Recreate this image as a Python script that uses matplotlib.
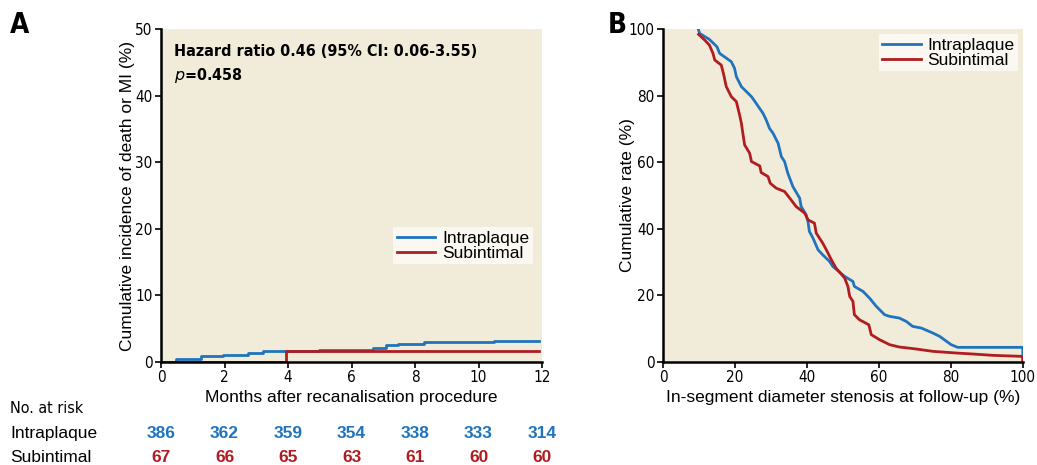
import numpy as np
import matplotlib.pyplot as plt
from matplotlib import font_manager
from matplotlib.font_manager import FontProperties

# colours
BLUE = '#1f74bd'
RED = '#b01c1f'
BG = '#f1ecda'

# Panel A: cumulative incidence (step functions)
intra_t = [0, 0.47, 1.26, 1.96, 2.75, 3.22, 4.98, 6.67, 7.09, 7.46, 8.29, 10.5, 11.9]
intra_y = [0, 0.5, 0.85, 1.05, 1.3, 1.6, 1.85, 2.15, 2.5, 2.75, 2.95, 3.2, 3.2]
sub_t = [0, 3.92, 11.9]
sub_y = [0, 1.6, 1.6]

risk_months = [0, 2, 4, 6, 8, 10, 12]
risk_intra = [386, 362, 359, 354, 338, 333, 314]
risk_sub = [67, 66, 65, 63, 61, 60, 60]

# Panel B: cumulative rate vs diameter stenosis
b_intra_x = [9.9, 10.2, 12.9, 15, 15.75, 19, 19.9, 20.4, 21.8, 23.2, 24.6, 25.9, 27.8, 28.7,
             29.6, 30.6, 32, 32.9, 33.8, 34.7, 36.1, 38, 38.4, 39.8, 40.3, 40.7, 41.7, 43.1,
             44.4, 46.3, 47.2, 50.5, 52.8, 53.2, 55.6, 57.4, 59.3, 61.6, 63, 65.7, 67.6,
             69.4, 71.8, 75, 76.9, 80.1, 81.9, 100, 100]
b_intra_y = [99.7, 98.7, 96.9, 94.7, 92.7, 90.2, 88.2, 85.7, 82.7, 81.2, 79.7, 77.7, 74.7, 72.7,
             70.2, 68.7, 65.7, 61.7, 60.2, 56.7, 52.7, 49.2, 46.7, 44.2, 42.2, 39.2, 37.2, 33.7,
             32.2, 30.2, 28.7, 25.7, 24.2, 22.7, 21.2, 19.2, 16.7, 14.2, 13.7, 13.2, 12.2,
             10.7, 10.2, 8.7, 7.7, 5.2, 4.4, 4.4, 0]
b_sub_x = [9.9, 11.6, 12.9, 13.9, 14.4, 16.2, 16.9, 17.6, 19, 20.4, 21.3, 21.8, 22.2, 22.7,
           24.1, 24.6, 26.9, 27.3, 29.2, 29.8, 31.5, 33.8, 35.6, 37, 39.4, 40.3, 42.1, 42.6,
           44.4, 45.4, 46.8, 48.1, 50.5, 51.4, 51.9, 52.8, 53.2, 54.6, 57.2, 57.9, 60.2, 63,
           65.7, 70.4, 75, 81.5, 86.1, 91.7, 99.5, 100, 100]
b_sub_y = [98.4, 96.7, 95.2, 92.7, 90.7, 89.2, 86.2, 82.7, 79.7, 78.2, 74.2, 71.7, 68.7, 65.2,
           62.7, 60.2, 58.9, 56.9, 55.7, 53.7, 52.2, 51.2, 48.7, 46.7, 44.7, 42.7, 41.7, 38.7,
           35.7, 33.7, 30.7, 28.2, 25.2, 22.7, 19.7, 18.2, 14.2, 12.7, 11.2, 8.2, 6.7, 5.2,
           4.5, 3.9, 3.2, 2.7, 2.4, 2.0, 1.7, 1.7, 0]

plt.rcParams['font.family'] = ['Liberation Sans', 'DejaVu Sans']


# narrow sans face if one is installed (Liberation Sans Narrow / DejaVu Sans Condensed)
def find_cond(bold):
    files = [f.fname for f in font_manager.fontManager.ttflist]
    if bold:
        keys = ['LiberationSansNarrow-Bold.', 'DejaVuSansCondensed-Bold.']
    else:
        keys = ['LiberationSansNarrow-Regular.', 'DejaVuSansCondensed.']
    for k in keys:
        for p in files:
            if k in p.replace('\\', '/').split('/')[-1]:
                return p
    return None


COND_R = find_cond(False)
COND_B = find_cond(True)


def cfont(size, bold=False):
    path = COND_B if bold else COND_R
    if path:
        return FontProperties(fname=path, size=size)
    return FontProperties(family='Liberation Sans', size=size * 0.9,
                          weight='bold' if bold else 'normal')


fig = plt.figure(figsize=(10.37, 4.65), dpi=100)
axA = fig.add_axes([0.1553, 0.2215, 0.3674, 0.716])
axB = fig.add_axes([0.6393, 0.2215, 0.347, 0.716])


def style(ax):
    ax.set_facecolor(BG)
    for s in ['top', 'right']:
        ax.spines[s].set_visible(False)
    for s in ['left', 'bottom']:
        ax.spines[s].set_linewidth(1.8)
    ax.tick_params(direction='out', length=4, width=1.2, pad=2)
    for lab in ax.get_xticklabels() + ax.get_yticklabels():
        lab.set_fontproperties(cfont(11))


# panel A
axA.step(intra_t, intra_y, where='post', color=BLUE, lw=2, label='Intraplaque')
axA.step(sub_t, sub_y, where='post', color=RED, lw=2, label='Subintimal')
axA.set_xlim(0, 12)
axA.set_ylim(0, 50)
axA.set_xticks(range(0, 13, 2))
axA.set_yticks(range(0, 51, 10))
style(axA)
axA.set_xlabel('Months after recanalisation procedure', fontsize=12.5, labelpad=3)
axA.set_ylabel('Cumulative incidence of death or MI (%)', fontsize=12.5)
axA.yaxis.set_label_coords(-0.068, 0.5)
axA.text(0.035, 0.955, 'Hazard ratio 0.46 (95% CI: 0.06-3.55)', transform=axA.transAxes,
         fontproperties=cfont(11.5, True), va='top')
axA.text(0.035, 0.89, r'$\it{p}$=0.458', transform=axA.transAxes,
         fontproperties=cfont(11.5, True), va='top')
legA = axA.legend(loc='upper left', bbox_to_anchor=(0.61, 0.405), fontsize=12.5, frameon=True,
                  fancybox=False, handlelength=2.2, borderpad=0.2, labelspacing=0.0,
                  handletextpad=0.4, borderaxespad=0)
legA.get_frame().set_facecolor('#faf8f0')
legA.get_frame().set_edgecolor('none')
legA.get_frame().set_alpha(1)

# number at risk
fig.text(10 / 1037, 1 - 408 / 465, 'No. at risk', fontproperties=cfont(11.5), va='center')
fig.text(10 / 1037, 1 - 433 / 465, 'Intraplaque', fontsize=12.5, va='center')
fig.text(10 / 1037, 1 - 457 / 465, 'Subintimal', fontsize=12.5, va='center')
for m, ni, ns in zip(risk_months, risk_intra, risk_sub):
    axA.annotate(str(ni), xy=(m, 0), xycoords=('data', 'axes fraction'),
                 xytext=(m, 1 - 433 / 465), textcoords=('data', 'figure fraction'),
                 ha='center', va='center', fontsize=12.5, fontweight='bold', color=BLUE,
                 annotation_clip=False)
    axA.annotate(str(ns), xy=(m, 0), xycoords=('data', 'axes fraction'),
                 xytext=(m, 1 - 457 / 465), textcoords=('data', 'figure fraction'),
                 ha='center', va='center', fontsize=12.5, fontweight='bold', color=RED,
                 annotation_clip=False)

# panel B
axB.plot(b_intra_x, b_intra_y, color=BLUE, lw=2, label='Intraplaque')
axB.plot(b_sub_x, b_sub_y, color=RED, lw=2, label='Subintimal')
axB.set_xlim(0, 100)
axB.set_ylim(0, 100)
axB.set_xticks(range(0, 101, 20))
axB.set_yticks(range(0, 101, 20))
style(axB)
axB.set_xlabel('In-segment diameter stenosis at follow-up (%)', fontsize=12.5, labelpad=3)
axB.set_ylabel('Cumulative rate (%)', fontsize=12.5)
axB.yaxis.set_label_coords(-0.077, 0.5)
legB = axB.legend(loc='upper left', bbox_to_anchor=(0.6, 0.985), fontsize=12.5, frameon=True,
                  fancybox=False, handlelength=2.2, borderpad=0.2, labelspacing=0.0,
                  handletextpad=0.4, borderaxespad=0)
legB.get_frame().set_facecolor('#faf8f0')
legB.get_frame().set_edgecolor('none')
legB.get_frame().set_alpha(1)

fig.text(10 / 1037, 1 - 25 / 465, 'A', fontproperties=cfont(20, True), va='center')
fig.text(608 / 1037, 1 - 25 / 465, 'B', fontproperties=cfont(20, True), va='center')

fig.savefig('out.png', dpi=100)
